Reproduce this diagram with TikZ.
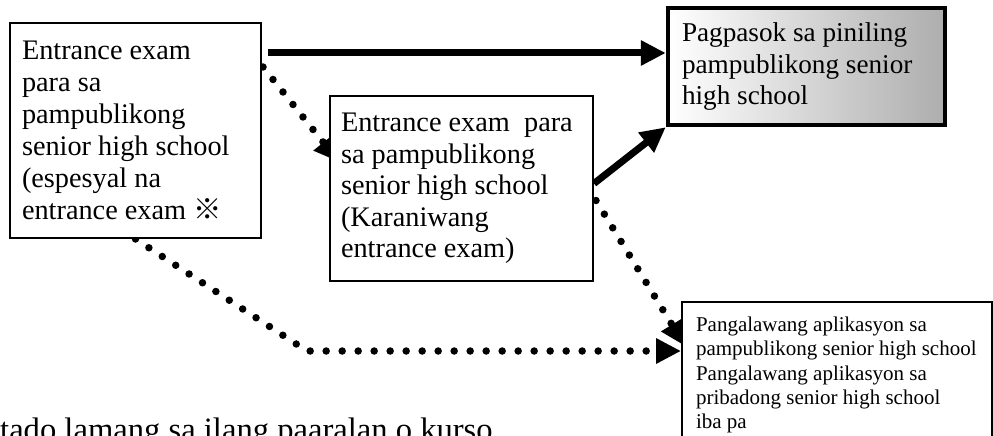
\documentclass[tikz,border=0pt]{standalone}
\usepackage{fontspec}
\setmainfont{Liberation Serif}
\newfontfamily\cjkfont{Noto Sans CJK JP}
\usetikzlibrary{arrows.meta}
\usetikzlibrary{calc}

\pgfdeclarelayer{bg}
\pgfsetlayers{bg,main}

\tikzset{
    exambox/.style={rectangle, draw=black, line width=2pt, fill=white, align=left, inner ysep=0pt},
    thickarrow/.style={line width=7pt, -{Triangle[length=25pt,width=24pt]}},
    dotarrow/.style={line width=7.5pt, line cap=round, dash pattern=on 0pt off 16pt, -{Triangle[length=25pt,width=24pt]}},
}

\begin{document}
\begin{tikzpicture}[x=1pt,y=-1pt]
        \useasboundingbox (0,0) rectangle (993,436);

        \node[exambox,
            font = {\fontsize{28.3pt}{32pt}\selectfont},
            text width = 227pt,
            inner xsep = 12pt,
            minimum height = 215pt] (entSpecial) at (135.5,130.5)
            {\spaceskip=0pt Entrance exam\\para sa\\pampublikong\\senior high school\\(espesyal na\\entrance exam {\cjkfont ※}};

        \node[exambox,
            font = {\fontsize{28.3pt}{31.5pt}\selectfont},
            text width = 241pt,
            inner xsep = 11pt,
            minimum height = 185pt] (entRegular) at (461.5,188.5)
            {\spaceskip=0pt Entrance exam\ \ para\\sa pampublikong\\senior high school\\(Karaniwang\\entrance exam)};

        \node[exambox,
            font = {\fontsize{27.2pt}{31.5pt}\selectfont},
            line width = 4.5pt,
            left color = white,
            right color = black!32,
            text width = 249pt,
            inner xsep = 14pt,
            minimum height = 117pt] (pickedSchool) at (806.5,66.5)
            {\spaceskip=0pt Pagpasok sa piniling\\pampublikong senior\\high school\\[-10pt]};

        \node[exambox,
            font = {\fontsize{21pt}{24.3pt}\selectfont},
            anchor = north west,
            text width = 282pt,
            inner xsep = 14pt,
            inner ysep = 15pt] (secondApp) at (681,301)
            {\spaceskip=0pt Pangalawang aplikasyon sa\\pampublikong senior high school\\Pangalawang aplikasyon sa\\pribadong senior high school\\iba pa};

        \node[anchor=base west, inner sep=0pt] (note) at (0,440)
            {\fontsize{32.6pt}{36pt}\selectfont tado lamang sa ilang paaralan o kurso};

        %connectors go under the boxes
        \begin{pgfonlayer}{bg}
        \coordinate (a1) at ($(entSpecial.north east)+(6,31)$);
        \draw[thickarrow] (a1) -- (a1 -| pickedSchool.west);
        \draw[thickarrow] ($(entRegular.east)+(0,-5)$) -- (pickedSchool.south west);

        \draw[dotarrow] ($(entSpecial.north east)+(1,45)$) -- ($(entRegular.north west)+(10,67)$);
        \draw[dotarrow] ($(entRegular.east)+(2,12)$) -- ($(secondApp.north west)+(4,45)$);

        \coordinate (bend) at (307,351);
        \draw[dotarrow] (entSpecial.south) -- (bend) -- (bend -| secondApp.west);
        \end{pgfonlayer}
    \end{tikzpicture}
\end{document}
